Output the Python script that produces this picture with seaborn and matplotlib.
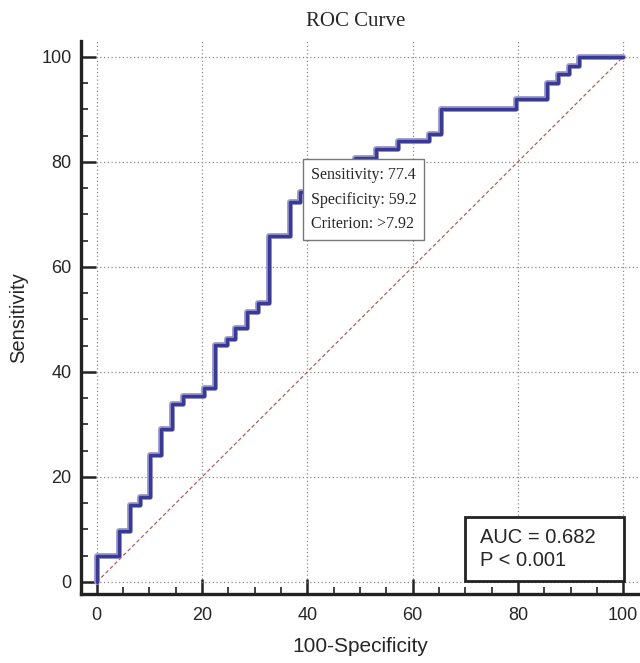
import numpy as np
import pandas as pd
import matplotlib
matplotlib.use("Agg")
import matplotlib.pyplot as plt
from matplotlib.patches import Rectangle
from matplotlib.ticker import MultipleLocator
import seaborn as sns

# ============ DATA ============
# ROC corners: 100-specificity and sensitivity after each step
fpr = [0, 0, 4.2, 6.3, 8.2, 10.1, 12.2, 14.3, 16.4, 20.4, 22.4, 24.7, 26.2,
       28.5, 30.7, 32.8, 36.7, 38.6, 40.8, 49.0, 53.0, 57.3, 63.2, 65.4,
       79.7, 85.5, 87.7, 89.8, 91.6, 100]
tpr = [0, 5.0, 9.8, 14.7, 16.2, 24.2, 29.1, 33.9, 35.5, 37.0, 45.1, 46.2, 48.3,
       51.4, 53.2, 65.9, 72.4, 74.2, 77.4, 80.7, 82.4, 83.9, 85.3, 90.1,
       91.9, 95.0, 96.7, 98.3, 100, 100]
diag = [0, 100]

cut_sens, cut_spec, cut_crit = 77.4, 59.2, ">7.92"
auc_txt, p_txt = "0.682", "< 0.001"

roc = pd.DataFrame({"fpr": fpr, "tpr": tpr})
ref = pd.DataFrame({"x": diag, "y": diag})

# ============ PLOT ============
sns.set_theme(style="white")
plt.rcParams["font.family"] = ["Liberation Sans", "DejaVu Sans"]

fig = plt.figure(figsize=(6.4, 6.63), dpi=100)
ax = fig.add_axes([0.127, 0.104, 0.873, 0.834])

ax.grid(True, which="major", ls=(0, (1, 2)), color="#8a8a8a", lw=0.9)
ax.set_axisbelow(True)

sns.lineplot(data=ref, x="x", y="y", ax=ax, color="#b06060",
             ls=(0, (3, 2)), lw=0.9, estimator=None, sort=False)
sns.lineplot(data=roc, x="fpr", y="tpr", ax=ax, color="#9a9ad2", lw=4.2,
             drawstyle="steps-post", estimator=None, sort=False)
sns.lineplot(data=roc, x="fpr", y="tpr", ax=ax, color="#3a3a92", lw=2.4,
             drawstyle="steps-post", estimator=None, sort=False)

ax.set_xlim(-2.95, 103.2)
ax.set_ylim(-2.3, 103)
ax.xaxis.set_major_locator(MultipleLocator(20))
ax.yaxis.set_major_locator(MultipleLocator(20))
ax.xaxis.set_minor_locator(MultipleLocator(5))
ax.yaxis.set_minor_locator(MultipleLocator(5))
ax.tick_params(which="major", direction="in", length=11, width=1.8,
               color="#222222", labelsize=13, pad=7)
ax.tick_params(which="minor", direction="in", length=5, width=1.2,
               color="#222222")
ax.tick_params(axis="x", which="major", pad=9)
ax.tick_params(left=True, bottom=True, which="both")

for s in ["top", "right"]:
    ax.spines[s].set_visible(False)
for s in ["left", "bottom"]:
    ax.spines[s].set_color("#222222")
    ax.spines[s].set_linewidth(2.4)

ax.set_xlabel("100-Specificity", fontsize=15)
ax.set_ylabel("Sensitivity", fontsize=14.5)
ax.xaxis.set_label_coords(0.5, -0.078)
ax.yaxis.set_label_coords(-0.096, 0.5)

fig.text(0.555, 0.967, "ROC Curve", ha="center", va="center",
         fontsize=15, family=["Liberation Serif", "DejaVu Serif"])

# criterion annotation
ax.text(40.6, 79.0,
        f"Sensitivity: {cut_sens}\nSpecificity: {cut_spec}\nCriterion: {cut_crit}",
        ha="left", va="top", fontsize=11.5, linespacing=1.7,
        family=["Liberation Serif", "DejaVu Serif"], zorder=6,
        bbox=dict(boxstyle="square,pad=0.5", fc="white", ec="#777777", lw=1))

# AUC box
ax.add_patch(Rectangle((70, 0.25), 30.2, 12.15, fc="white", ec="#222222",
                       lw=2, zorder=5))
ax.text(72.8, 6.3, f"AUC = {auc_txt}\nP {p_txt}", ha="left", va="center",
        fontsize=14.5, linespacing=1.25, zorder=6)

fig.savefig("out.png", dpi=100)
